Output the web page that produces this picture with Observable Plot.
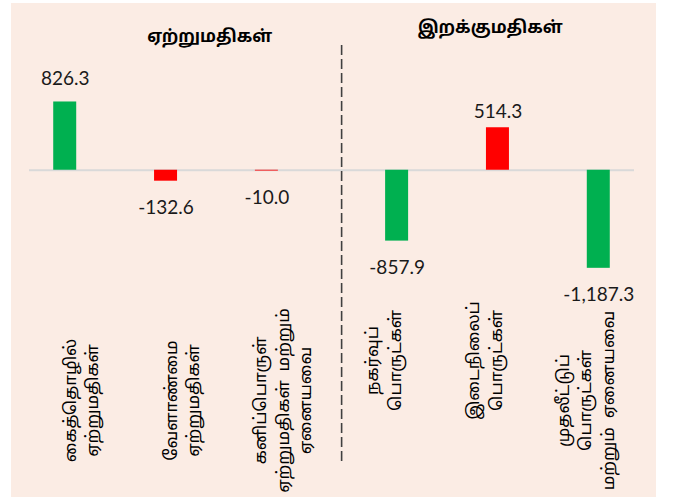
<!DOCTYPE html>
<html>
<head>
<meta charset="utf-8">
<script src="https://cdn.jsdelivr.net/npm/d3@7"></script>
<script src="https://cdn.jsdelivr.net/npm/@observablehq/plot@0.6"></script>
<style>
  html, body { margin: 0; padding: 0; background: #ffffff; }
  #wrap { position: relative; width: 678px; height: 497px; overflow: hidden; }
  #panel { position: absolute; left: 11px; top: 3px; width: 645px; height: 494px; background: #fbece4; }
  #chart { position: absolute; left: 0; top: 0; }
</style>
</head>
<body>
<div id="wrap"><div id="panel"></div><div id="chart"></div></div>
<script>
// ---- data ----
const groups = ["ஏற்றுமதிகள்", "இறக்குமதிகள்"];
const categories = [
  "கைத்தொழில்\nஏற்றுமதிகள்",
  "வேளாண்மை\nஏற்றுமதிகள்",
  "கனிப்பொருள்\nஏற்றுமதிகள்  மற்றும்\nஏனையவை",
  "நகர்வுப்\nபொருட்கள்",
  "இடைநிலைப்\nபொருட்கள்",
  "முதலீட்டுப்\nபொருட்கள்\nமற்றும்  ஏனையவை"
];
const categoryGroup = [0, 0, 0, 1, 1, 1];
const values = [826.3, -132.6, -10.0, -857.9, 514.3, -1187.3];

// ---- table ----
const rows = categories.map((c, i) => ({
  category: c,
  group: groups[categoryGroup[i]],
  value: values[i]
}));

const GREEN = "#00b050", RED = "#ff0000";
const fillOf = d => (d.group === groups[0] ? d.value >= 0 : d.value <= 0) ? GREEN : RED;
const fmt = d3.formatLocale({decimal: ".", thousands: ",", grouping: [3], currency: ["", ""], minus: "-"}).format(",.1f");

const exportsRows = rows.filter(d => d.group === groups[0]);
const importsRows = rows.filter(d => d.group === groups[1]);
const OFF = 14.7;
const tamil = "'Noto Sans Tamil', 'Latha', 'Nirmala UI', 'Noto Sans', sans-serif";
const num = "Lato, 'Noto Sans', sans-serif";

function valueLabels(data, dx, posDy) {
  return [
    Plot.text(data.filter(d => d.value >= 0), {x: "category", y: "value", text: d => fmt(d.value), dx, dy: posDy, lineAnchor: "bottom", fontFamily: num, fontSize: 19, fill: "#1a1a1a"}),
    Plot.text(data.filter(d => d.value < 0), {x: "category", y: "value", text: d => fmt(d.value), dx, dy: 19, lineAnchor: "top", fontFamily: num, fontSize: 19, fill: "#1a1a1a"})
  ];
}

const labelsA = rows.filter((d, i) => i !== 3 && i !== 4);
const labelsB = rows.filter((d, i) => i === 3 || i === 4);

const chart = Plot.plot({
  width: 678,
  height: 497,
  marginLeft: 29,
  marginRight: 44,
  marginTop: 45,
  marginBottom: 34,
  style: {background: "transparent", overflow: "visible"},
  x: {domain: categories, paddingInner: 0.772, paddingOuter: 0.386, round: false, axis: null},
  y: {domain: [-3550, 1510], axis: null},
  marks: [
    Plot.ruleY([0], {stroke: "#d9d9d9", strokeWidth: 2}),
    Plot.barY(exportsRows, {x: "category", y: "value", fill: fillOf, dx: -OFF}),
    Plot.barY(importsRows, {x: "category", y: "value", fill: fillOf, dx: OFF}),
    ...valueLabels(exportsRows, -OFF, -17),
    ...valueLabels(importsRows, OFF, -10),
    // divider between export and import sections
    Plot.ruleX([categories[3]], {x: d => d, dx: -40.8, stroke: "#404040", strokeWidth: 1.6, strokeDasharray: "10,4"}),
    // section titles
    Plot.text([groups[0]], {x: () => categories[1], text: d => d, dx: 29, frameAnchor: "top", dy: -9, lineAnchor: "middle", fontFamily: tamil, fontWeight: "bold", fontSize: 17, fill: "#000"}),
    Plot.text([groups[1]], {x: () => categories[4], text: d => d, dx: 7, frameAnchor: "top", dy: -17.5, lineAnchor: "middle", fontFamily: tamil, fontWeight: "bold", fontSize: 17, fill: "#000"}),
    // category labels
    Plot.text(labelsA, {x: "category", text: "category", frameAnchor: "bottom", dy: -63, rotate: -90, textAnchor: "middle", lineAnchor: "middle", lineHeight: 1.33, fontFamily: tamil, fontSize: 17, fill: "#000"}),
    Plot.text(labelsB, {x: "category", text: "category", frameAnchor: "bottom", dy: -103, rotate: -90, textAnchor: "middle", lineAnchor: "middle", lineHeight: 1.33, fontFamily: tamil, fontSize: 17, fill: "#000"})
  ]
});
document.getElementById("chart").appendChild(chart);
</script>
</body>
</html>
